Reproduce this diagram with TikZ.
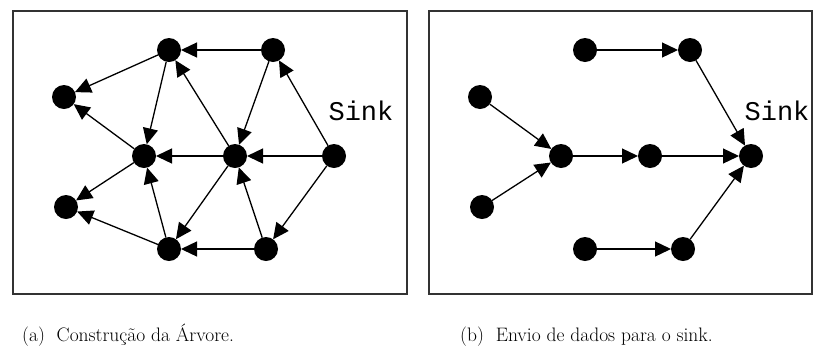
\documentclass[tikz,border=0pt]{standalone}
\usepackage{fontspec}
\newfontfamily\sinkfont{Liberation Mono}
\usetikzlibrary{arrows.meta}
\begin{document}
\begin{tikzpicture}[x=1pt,y=-1pt,
  dot/.style={circle,fill=black,inner sep=0pt,outer sep=0pt,minimum size=24pt},
  edge/.style={line width=1.3pt,-{Triangle[length=16pt,width=15pt]}},
  frame/.style={draw=black!80,line width=1.5pt},
  sinklabel/.style={font=\sinkfont\fontsize{27}{27}\selectfont,inner sep=0pt},
  caption/.style={font=\fontsize{19.5}{20}\selectfont,inner sep=0pt,anchor=base west}]
\useasboundingbox (0,0) rectangle (814,349);
\draw[frame] (13,11) rectangle (407,294);
\draw[frame] (429,11) rectangle (812,294);
% left
\node[dot] (A) at (169,50) {};
\node[dot] (B) at (273,50) {};
\node[dot] (C) at (64,97) {};
\node[dot] (D) at (144,156) {};
\node[dot] (E) at (235,156) {};
\node[dot] (F) at (334,156) {};
\node[dot] (G) at (66,207) {};
\node[dot] (H) at (169,249) {};
\node[dot] (I) at (266,249) {};
\node[sinklabel] (sl) at (361,111) {Sink};
\draw[edge] (B) -- (A);
\draw[edge] (F) -- (B);
\draw[edge] (B) -- (E);
\draw[edge] (E) -- (A);
\draw[edge] (A) -- (C);
\draw[edge] (A) -- (D);
\draw[edge] (D) -- (C);
\draw[edge] (F) -- (E);
\draw[edge] (E) -- (D);
\draw[edge] (D) -- (G);
\draw[edge] (H) -- (D);
\draw[edge] (H) -- (G);
\draw[edge] (E) -- (H);
\draw[edge] (I) -- (E);
\draw[edge] (I) -- (H);
\draw[edge] (F) -- (I);
% right
\node[dot] (P1) at (585,50) {};
\node[dot] (P2) at (690,50) {};
\node[dot] (Q1) at (480,97) {};
\node[dot] (Q2) at (482,207) {};
\node[dot] (R) at (561,156) {};
\node[dot] (S) at (650,156) {};
\node[dot] (K) at (751,156) {};
\node[dot] (T1) at (585,249) {};
\node[dot] (T2) at (683,249) {};
\node[sinklabel] (sr) at (777,111) {Sink};
\draw[edge] (P1) -- (P2);
\draw[edge] (P2) -- (K);
\draw[edge] (Q1) -- (R);
\draw[edge] (Q2) -- (R);
\draw[edge] (R) -- (S);
\draw[edge] (S) -- (K);
\draw[edge] (T1) -- (T2);
\draw[edge] (T2) -- (K);
% captions
\node[caption] (ca) at (22,341) {(a)\ \ Construção da Árvore.};
\node[caption] (cb) at (460,341) {(b)\ \ Envio de dados para o sink.};
\end{tikzpicture}
\end{document}
